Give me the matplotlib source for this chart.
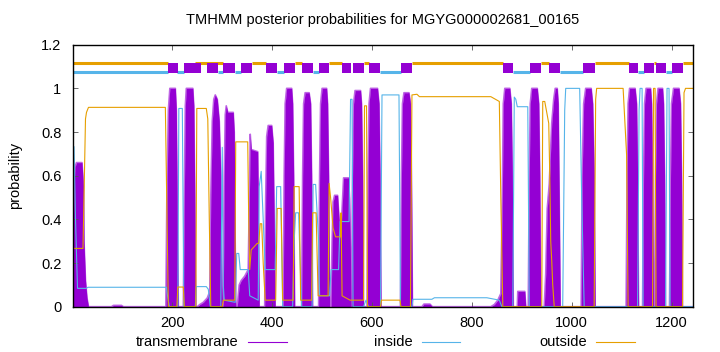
import matplotlib
matplotlib.use('Agg')
import matplotlib.pyplot as plt
from matplotlib.lines import Line2D

plt.rcParams['font.family'] = ['Liberation Sans', 'DejaVu Sans']
plt.rcParams['font.size'] = 10.5

# posterior curves as (position, probability) breakpoints
tm_x = [1, 3, 5, 8, 19, 22, 23, 26, 29, 32, 78, 82, 98, 102,
        187, 189, 192, 195, 206, 208, 210, 212,
        222, 224, 226, 228, 241, 243, 245, 247,
        250, 255, 262, 270, 275, 277, 280, 283, 286, 290, 294, 297, 299, 301,
        302, 304, 306, 308, 311, 322, 324, 326, 327,
        330, 334, 338, 345, 352, 355, 356, 358, 371, 372, 374,
        385, 387, 389, 392, 399, 402, 404, 406,
        422, 424, 426, 429, 439, 441, 443, 445,
        459, 461, 463, 466, 474, 477, 479, 481,
        493, 495, 497, 500, 509, 511, 513, 515,
        518, 520, 522, 525, 531, 534, 537, 540, 543, 553, 555, 557, 558,
        559, 561, 563, 566, 577, 579, 581, 583,
        590, 592, 594, 597, 611, 614, 616, 618,
        657, 659, 661, 664, 674, 677, 679, 681,
        700, 704, 716, 721,
        838, 845, 852, 858, 861, 863, 866, 876, 879, 881, 883,
        891, 892, 906, 908,
        913, 915, 917, 920, 931, 934, 936, 938,
        945, 948, 951, 955, 960, 964, 967, 971, 973, 975, 977,
        1019, 1021, 1024, 1028, 1039, 1042, 1045, 1047,
        1109, 1111, 1113, 1116, 1127, 1130, 1132, 1134,
        1142, 1144, 1146, 1149, 1158, 1160, 1162, 1164,
        1166, 1168, 1170, 1173, 1182, 1184, 1186, 1188,
        1196, 1198, 1200, 1204, 1215, 1218, 1220, 1222, 1243]
tm_y = [0.30, 0.55, 0.64, 0.66, 0.66, 0.55, 0.30, 0.12, 0.04, 0.0, 0.0, 0.006, 0.006, 0.0,
        0.0, 0.5, 0.9, 1.0, 1.0, 0.9, 0.4, 0.0,
        0.0, 0.5, 0.92, 1.0, 1.0, 0.92, 0.5, 0.0,
        0.0, 0.01, 0.02, 0.04, 0.07, 0.5, 0.85, 0.95, 0.97, 0.95, 0.85, 0.6, 0.1, 0.0,
        0.0, 0.6, 0.88, 0.92, 0.89, 0.89, 0.8, 0.3, 0.0,
        0.0, 0.10, 0.12, 0.14, 0.17, 0.6, 0.79, 0.72, 0.71, 0.5, 0.0,
        0.0, 0.5, 0.78, 0.83, 0.83, 0.75, 0.4, 0.0,
        0.0, 0.6, 0.93, 1.0, 1.0, 0.93, 0.6, 0.0,
        0.0, 0.6, 0.93, 0.98, 0.98, 0.93, 0.6, 0.0,
        0.0, 0.6, 0.93, 1.0, 1.0, 0.93, 0.6, 0.0,
        0.0, 0.3, 0.48, 0.51, 0.51, 0.4, 0.3, 0.45, 0.59, 0.59, 0.5, 0.2, 0.0,
        0.0, 0.6, 0.93, 0.99, 0.99, 0.93, 0.6, 0.0,
        0.0, 0.6, 0.93, 1.0, 1.0, 0.93, 0.6, 0.0,
        0.0, 0.6, 0.93, 0.98, 0.98, 0.93, 0.6, 0.0,
        0.0, 0.012, 0.012, 0.0,
        0.0, 0.01, 0.03, 0.06, 0.5, 0.93, 1.0, 1.0, 0.93, 0.6, 0.0,
        0.0, 0.07, 0.07, 0.0,
        0.0, 0.6, 0.93, 1.0, 1.0, 0.93, 0.6, 0.0,
        0.0, 0.15, 0.45, 0.56, 0.84, 0.95, 1.0, 1.0, 0.93, 0.5, 0.0,
        0.0, 0.6, 0.93, 1.0, 1.0, 0.93, 0.6, 0.0,
        0.0, 0.6, 0.93, 1.0, 1.0, 0.93, 0.6, 0.0,
        0.0, 0.6, 0.93, 1.0, 1.0, 0.93, 0.6, 0.0,
        0.0, 0.6, 0.93, 1.0, 1.0, 0.93, 0.6, 0.0,
        0.0, 0.6, 0.93, 1.0, 1.0, 0.93, 0.6, 0.0, 0.0]

inside_x = [1, 3, 6, 10, 28, 31, 188, 191, 194, 211, 213, 220, 223, 246, 248, 268, 272, 276,
            297, 300, 302, 304, 326, 329, 333, 336, 352, 355, 372, 374, 378, 382, 386, 406,
            409, 417, 421, 441, 444, 447, 453, 456, 459, 480, 482, 487, 493, 495, 515, 518,
            533, 536, 554, 557, 560, 562, 583, 588, 593, 617, 620, 654, 657, 680, 682, 720,
            725, 830, 855, 860, 882, 885, 888, 891, 912, 915, 982, 986, 988, 1016, 1020,
            1025, 1132, 1135, 1137, 1141, 1143, 1188, 1191, 1195, 1197, 1243]
inside_y = [0.733, 0.733, 0.4, 0.084, 0.084, 0.089, 0.089, 0.04, 0.0, 0.0, 0.908, 0.908, 0.0,
            0.0, 0.092, 0.092, 0.08, 0.0, 0.0, 0.73, 0.1, 0.03, 0.02, 0.244, 0.244, 0.17,
            0.17, 0.05, 0.03, 0.55, 0.62, 0.4, 0.17, 0.17, 0.55, 0.55, 0.0, 0.0, 0.3, 0.43,
            0.43, 0.2, 0.0, 0.0, 0.56, 0.56, 0.3, 0.05, 0.05, 0.17, 0.17, 0.39, 0.39, 0.95,
            0.95, 0.0, 0.0, 0.03, 0.0, 0.0, 0.97, 0.97, 0.0, 0.0, 0.034, 0.034, 0.041, 0.041,
            0.03, 0.0, 0.0, 0.96, 0.95, 0.916, 0.916, 0.0, 0.0, 0.9, 1.0, 1.0, 0.5, 0.0, 0.0,
            0.9, 1.0, 1.0, 0.0, 0.0, 1.0, 1.0, 0.0, 0.0]

outside_x = [1, 21, 23, 26, 28, 32, 186, 190, 192, 209, 211, 222, 224, 247, 249, 268, 271,
             274, 277, 300, 302, 325, 327, 351, 353, 355, 358, 370, 373, 376, 379, 382, 386,
             407, 410, 418, 421, 442, 444, 454, 457, 479, 481, 488, 492, 512, 514, 517, 522,
             527, 537, 538, 540, 556, 583, 585, 589, 591, 617, 619, 656, 658, 677, 680, 690,
             695, 838, 855, 858, 862, 940, 942, 946, 954, 956, 958, 960, 962, 965, 1045,
             1048, 1050, 1103, 1110, 1113, 1162, 1164, 1167, 1169, 1222, 1225, 1228, 1243]
outside_y = [0.267, 0.267, 0.5, 0.86, 0.89, 0.913, 0.913, 0.3, 0.0, 0.0, 0.09, 0.09, 0.0, 0.0,
             0.908, 0.908, 0.86, 0.4, 0.0, 0.0, 0.03, 0.03, 0.755, 0.755, 0.4, 0.17, 0.26,
             0.29, 0.29, 0.38, 0.38, 0.2, 0.03, 0.03, 0.45, 0.45, 0.03, 0.03, 0.55, 0.55, 0.03,
             0.03, 0.43, 0.43, 0.05, 0.05, 0.565, 0.5, 0.36, 0.32, 0.32, 0.43, 0.05, 0.03,
             0.03, 0.92, 0.92, 0.0, 0.0, 0.03, 0.03, 0.0, 0.0, 0.97, 0.973, 0.962, 0.962, 0.94,
             0.5, 0.0, 0.0, 0.94, 0.94, 0.84, 0.61, 0.3, 0.21, 0.1, 0.0, 0.0, 0.95, 1.0, 1.0,
             0.695, 0.0, 0.0, 1.0, 1.0, 0.0, 0.0, 0.98, 1.0, 1.0]

# predicted topology shown along the top
tm_segments = [(192, 211), (223, 257), (270, 291), (302, 325), (338, 359), (387, 410),
               (423, 445), (460, 481), (494, 514), (540, 557), (562, 584), (594, 616),
               (658, 680), (862, 883), (917, 939), (954, 976), (1023, 1046), (1115, 1133),
               (1145, 1165), (1169, 1188), (1200, 1222)]
inside_segments = [(1, 192), (210, 223), (291, 302), (325, 338), (410, 423), (481, 494),
                   (616, 658), (883, 917), (976, 1023), (1133, 1145), (1188, 1200)]
outside_segments = [(1, 192), (246, 302), (359, 387), (445, 460), (514, 540), (584, 594),
                    (680, 862), (939, 954), (1046, 1115), (1165, 1169), (1222, 1243)]

purple = '#9400d3'
blue = '#56b4e9'
orange = '#e69f00'

fig = plt.figure(figsize=(7.2, 3.52), dpi=100)
ax = fig.add_axes([0.1014, 0.1287, 0.8611, 0.7443])

ax.fill_between(tm_x, 0, tm_y, color=purple, lw=0)
ax.plot(tm_x, tm_y, color=purple, lw=1.2, alpha=0.6)
ax.plot(inside_x, inside_y, color=blue, lw=0.8)
ax.plot(outside_x, outside_y, color=orange, lw=0.8)

for s, e in outside_segments:
    ax.plot([s, e], [1.117, 1.117], color=orange, lw=2.2, solid_capstyle='butt')
for s, e in inside_segments:
    ax.plot([s, e], [1.074, 1.074], color=blue, lw=2.2, solid_capstyle='butt')
for s, e in tm_segments:
    ax.plot([s, e], [1.092, 1.092], color=purple, lw=7.2, solid_capstyle='butt')

ax.set_xlim(1, 1243)
ax.set_ylim(0, 1.2)
ax.set_xticks([200, 400, 600, 800, 1000, 1200])
ax.set_yticks([0, 0.2, 0.4, 0.6, 0.8, 1.0, 1.2])
ax.set_yticklabels(['0', '0.2', '0.4', '0.6', '0.8', '1', '1.2'])
ax.tick_params(direction='in', length=3.6, width=0.6, top=True, right=True,
               colors='#555555', labelcolor='black')
ax.tick_params(axis='y', pad=8.4)
ax.tick_params(axis='x', pad=7)
for sp in ax.spines.values():
    sp.set_linewidth(1.0)
ax.set_ylabel('probability')
ax.yaxis.set_label_coords(-0.082, 0.5)

fig.text(383 / 720, 1 - 20 / 352, 'TMHMM posterior probabilities for MGYG000002681_00165',
         ha='center', va='center')

# legend in gnuplot style: label then line sample
ly = 1 - 341.7 / 352
for label, x_txt, x0, x1, col in [('transmembrane', 238, 247.7, 286.7, purple),
                                  ('inside', 413, 421.7, 460, blue),
                                  ('outside', 587, 596, 635, orange)]:
    fig.text(x_txt / 720, ly, label, ha='right', va='center')
    fig.add_artist(Line2D([x0 / 720, x1 / 720], [ly, ly], color=col, lw=0.8))

fig.savefig('out.png', dpi=100)
